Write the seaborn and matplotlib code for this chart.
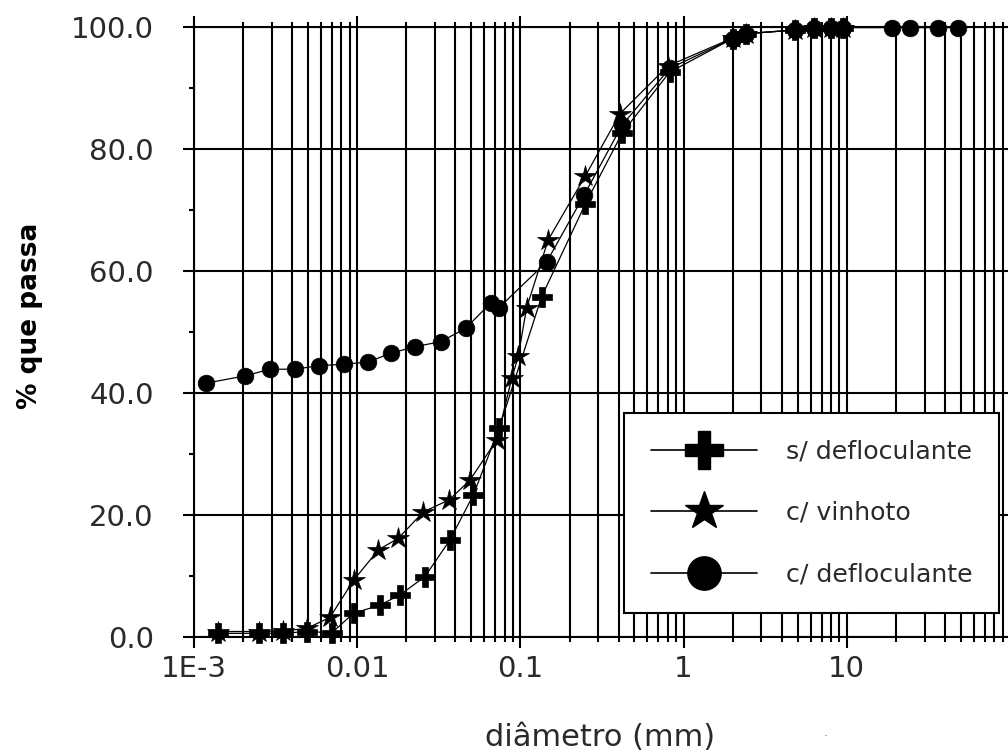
import matplotlib
matplotlib.use("Agg")
import matplotlib.pyplot as plt
from matplotlib.lines import Line2D
from matplotlib.ticker import FixedLocator, FixedFormatter, NullFormatter
import numpy as np
import pandas as pd
import seaborn as sns

# ---- data ----
d_sem = [0.0014, 0.0025, 0.0035, 0.0049, 0.0070, 0.0095, 0.0137, 0.0183, 0.026, 0.037,
         0.0515, 0.074, 0.135, 0.25, 0.42, 0.82, 2.0, 2.4, 4.8, 6.3, 8.0, 9.5]
p_sem = [0.6, 0.6, 0.6, 0.9, 0.7, 3.9, 5.2, 6.9, 9.9, 15.9,
         23.3, 34.2, 55.8, 71.0, 82.6, 92.6, 98.1, 98.9, 99.5, 99.8, 99.8, 99.9]

d_vin = [0.0014, 0.0025, 0.0035, 0.0049, 0.0068, 0.0095, 0.0135, 0.0179, 0.0254, 0.0367,
         0.049, 0.0716, 0.0885, 0.097, 0.109, 0.148, 0.249, 0.408, 0.80, 2.0, 2.4, 4.8,
         6.3, 8.0, 9.5]
p_vin = [0.9, 0.9, 1.0, 1.4, 3.2, 9.3, 14.3, 16.2, 20.5, 22.5,
         25.7, 32.3, 42.4, 46.0, 53.9, 65.1, 75.5, 85.8, 93.6, 98.2, 98.9, 99.5,
         99.8, 99.8, 99.9]

d_com = [0.00118, 0.00205, 0.00292, 0.00416, 0.00586, 0.00834, 0.0117, 0.016, 0.0226,
         0.0324, 0.0462, 0.066, 0.074, 0.145, 0.245, 0.42, 0.82, 2.0, 2.4, 4.8, 6.3,
         8.0, 9.5, 18.8, 24.4, 36.4, 48.3]
p_com = [41.6, 42.8, 43.9, 43.9, 44.5, 44.7, 45.1, 46.5, 47.6,
         48.4, 50.6, 54.8, 54.0, 61.5, 72.4, 83.9, 93.2, 98.1, 98.9, 99.5, 99.8,
         99.8, 99.9, 99.9, 99.9, 99.9, 99.9]

series_names = ["s/ defloculante", "c/ vinhoto", "c/ defloculante"]
x_major = [1e-3, 1e-2, 1e-1, 1, 10, 100]
x_major_labels = ["1E-3", "0.01", "0.1", "1", "10", ""]
y_major = [0, 20, 40, 60, 80, 100]
y_major_labels = ["0.0", "20.0", "40.0", "60.0", "80.0", "100.0"]
y_minor = [10, 30, 50, 70, 90]

# ---- style ----
sns.set_theme(style="white")
plt.rcParams["font.family"] = ["DejaVu Sans"]
txt_color = "#2a2a2a"

W, H = 1008, 753
fig = plt.figure(figsize=(W / 100, H / 100), dpi=100)
ax_l, ax_r, ax_t, ax_b = 194, 1010, 27, 637
ax = fig.add_axes([ax_l / W, 1 - ax_b / H, (ax_r - ax_l) / W, (ax_b - ax_t) / H])

markers = ["P", "*", "o"]
msizes = [14, 16, 12]
datasets = [(d_sem, p_sem), (d_vin, p_vin), (d_com, p_com)]
for (dx, py), name, mk, ms in zip(datasets, series_names, markers, msizes):
    df = pd.DataFrame({"d": dx, "p": py})
    sns.lineplot(data=df, x="d", y="p", ax=ax, color="black", lw=0.9,
                 marker=mk, markersize=ms, markeredgewidth=0.5,
                 markeredgecolor="black", markerfacecolor="black",
                 estimator=None, sort=False, legend=False, clip_on=False, zorder=5)

ax.set_xscale("log")
ax.set_xlim(1e-3, 100)
ax.set_ylim(0, 100)

# x ticks: majors + all minors with grid
minors = []
for dec in [1e-3, 1e-2, 1e-1, 1, 10]:
    for k in range(2, 10):
        minors.append(dec * k)
ax.xaxis.set_major_locator(FixedLocator(x_major))
ax.xaxis.set_major_formatter(FixedFormatter(x_major_labels))
ax.xaxis.set_minor_locator(FixedLocator(minors))
ax.xaxis.set_minor_formatter(NullFormatter())
ax.yaxis.set_major_locator(FixedLocator(y_major))
ax.yaxis.set_major_formatter(FixedFormatter(y_major_labels))
ax.yaxis.set_minor_locator(FixedLocator(y_minor))

ax.grid(True, which="major", axis="both", color="black", lw=1.5)
ax.grid(True, which="minor", axis="x", color="black", lw=1.5)
ax.set_axisbelow(True)

ax.tick_params(axis="x", which="major", direction="out", length=8, width=1.5,
               color="black", top=True, bottom=True, labelsize=21, pad=5,
               labelcolor=txt_color)
ax.tick_params(axis="x", which="minor", direction="out", length=3.8, width=1.5,
               color="black", top=True, bottom=True)
ax.tick_params(axis="y", which="major", direction="out", length=8, width=1.5,
               color="black", left=True, labelsize=21, pad=21, labelcolor=txt_color)
ax.tick_params(axis="y", which="minor", direction="out", length=3.8, width=1.5,
               color="black", left=True)

for s in ax.spines.values():
    s.set_color("black")
    s.set_linewidth(1.5)

ax.set_xlabel("")
ax.set_ylabel("")
fig.text(600 / W, 1 - 737 / H, "diâmetro (mm)", ha="center", va="center",
         fontsize=22, color=txt_color)
fig.text(30 / W, 1 - 316 / H, "% que passa", ha="center", va="center",
         rotation=90, fontsize=19, fontweight="bold", color="black")
fig.text(826 / W, 1 - 733 / H, ".", ha="center", va="center", fontsize=8,
         color="#555555")

# legend
handles = [
    Line2D([], [], color="black", lw=1.2, marker="P", markersize=27),
    Line2D([], [], color="black", lw=1.2, marker="*", markersize=29),
    Line2D([], [], color="black", lw=1.2, marker="o", markersize=24),
]
leg = ax.legend(handles, series_names, loc="upper left",
                bbox_to_anchor=(624 / W, 1 - 413 / H), bbox_transform=fig.transFigure,
                borderaxespad=0, frameon=True, fancybox=False, fontsize=18.2,
                handlelength=4.2, handletextpad=1.15, labelspacing=1.48,
                borderpad=1.05, framealpha=1)
leg.get_frame().set_edgecolor("black")
leg.get_frame().set_linewidth(1.5)
for t in leg.get_texts():
    t.set_color(txt_color)
leg.set_zorder(10)

fig.savefig("out.png", dpi=100)
